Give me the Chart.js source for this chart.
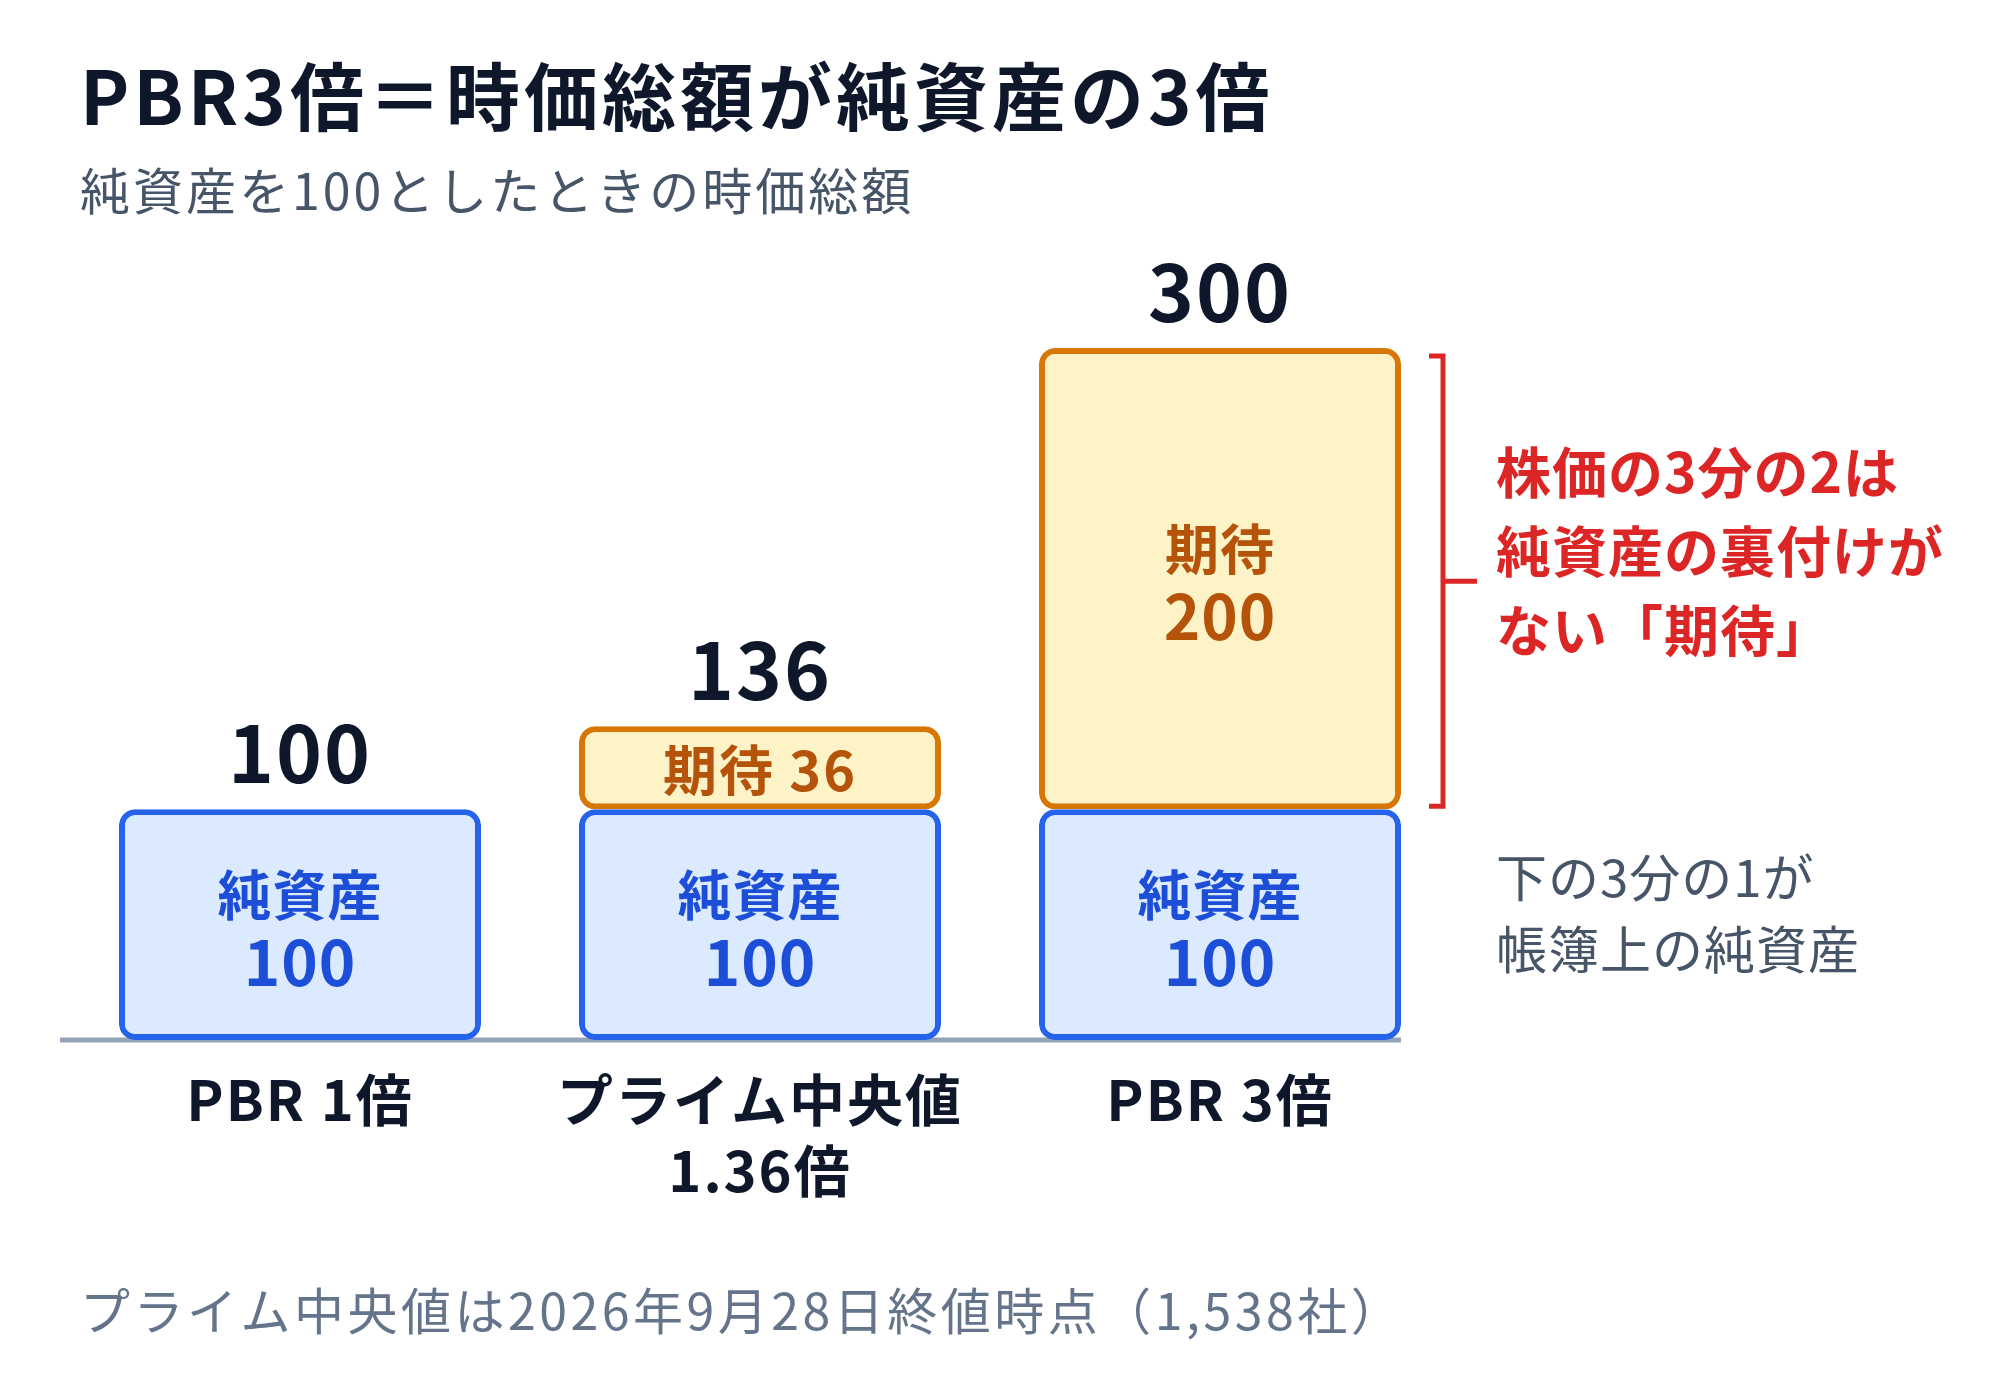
<!DOCTYPE html>
<html lang="ja">
<head>
<meta charset="utf-8">
<script src="https://cdn.jsdelivr.net/npm/chart.js@4.4.1/dist/chart.umd.min.js"></script>
<style>
  html, body { margin: 0; padding: 0; background: #ffffff; }
  #wrap { width: 2000px; height: 1380px; }
</style>
</head>
<body>
<div id="wrap"><canvas id="pbrChart" width="2000" height="1380"></canvas></div>
<script>
// データ
const categories = [["PBR 1倍"], ["プライム中央値", "1.36倍"], ["PBR 3倍"]];
const netAssets = [100, 100, 100];     // 純資産
const expectation = [null, 36, 200];   // 期待（時価総額 − 純資産）
const totals = [100, 136, 300];        // 時価総額
const titleText = "PBR3倍＝時価総額が純資産の3倍";
const subtitleText = "純資産を100としたときの時価総額";
const noteText = "プライム中央値は2026年9月28日終値時点（1,538社）";
const redNote = ["株価の3分の2は", "純資産の裏付けが", "ない「期待」"];
const grayNote = ["下の3分の1が", "帳簿上の純資産"];

const FONT = '"Noto Sans CJK JP", "Noto Sans", sans-serif';
const BLUE_TEXT = "#1d4ed8";
const ORANGE_TEXT = "#b45309";
const RED = "#dc2626";

const radius = { topLeft: 16, topRight: 16, bottomLeft: 16, bottomRight: 16 };

// 文字間を指定して描く
function drawText(ctx, s, x, y, spacing) {
  ctx.letterSpacing = (spacing || 0) + "px";
  ctx.fillText(s, x, y);
  ctx.letterSpacing = "0px";
}

// 文字・注記を描くプラグイン
const labelPlugin = {
  id: "labelPlugin",
  beforeDatasetsDraw(chart) {
    const ctx = chart.ctx;
    const y0 = chart.scales.y.getPixelForValue(0);
    const last = chart.getDatasetMeta(0).data[categories.length - 1];
    ctx.save();
    ctx.strokeStyle = "#94a3b8";
    ctx.lineWidth = 5;
    ctx.beginPath();
    ctx.moveTo(chart.chartArea.left - 10, y0);
    ctx.lineTo(last.x + last.width / 2, y0);
    ctx.stroke();
    ctx.restore();
  },
  afterDatasetsDraw(chart) {
    const ctx = chart.ctx;
    const x = chart.scales.x;
    ctx.save();
    ctx.textAlign = "center";
    ctx.textBaseline = "middle";

    // 純資産ラベル
    chart.getDatasetMeta(0).data.forEach((bar, i) => {
      const cy = (bar.y + bar.base) / 2;
      ctx.fillStyle = BLUE_TEXT;
      ctx.font = "bold 54px " + FONT;
      drawText(ctx, "純資産", bar.x, cy - 29, 1);
      ctx.font = "600 62px " + FONT;
      drawText(ctx, String(netAssets[i]), bar.x, cy + 38, 1);
    });

    // 期待ラベル
    chart.getDatasetMeta(1).data.forEach((bar, i) => {
      if (expectation[i] == null) return;
      const h = bar.base - bar.y;
      const cy = (bar.y + bar.base) / 2;
      ctx.fillStyle = ORANGE_TEXT;
      if (h < 140) {
        ctx.font = "bold 54px " + FONT;
        drawText(ctx, "期待 " + expectation[i], bar.x, cy + 3, 2);
      } else {
        ctx.font = "bold 54px " + FONT;
        drawText(ctx, "期待", bar.x, cy - 29, 1);
        ctx.font = "600 62px " + FONT;
        drawText(ctx, String(expectation[i]), bar.x, cy + 38, 1);
      }
    });

    // 合計
    ctx.fillStyle = "#0f172a";
    ctx.font = "bold 78px " + FONT;
    totals.forEach((t, i) => {
      const yTop = chart.scales.y.getPixelForValue(t);
      drawText(ctx, String(t), x.getPixelForValue(i), yTop - 56, 2);
    });

    // カテゴリ
    ctx.font = "bold 56px " + FONT;
    const y0 = chart.scales.y.getPixelForValue(0);
    categories.forEach((lines, i) => {
      lines.forEach((s, k) => {
        drawText(ctx, s, x.getPixelForValue(i), y0 + 60 + k * 71, 2);
      });
    });

    // 右の括弧
    const top = chart.getDatasetMeta(1).data[2];
    const bx = top.x + top.width / 2 + 42;
    const by1 = top.y + 8;
    const by2 = top.base - 3;
    ctx.strokeStyle = RED;
    ctx.lineWidth = 5;
    ctx.beginPath();
    ctx.moveTo(bx - 14, by1);
    ctx.lineTo(bx, by1);
    ctx.lineTo(bx, by2);
    ctx.lineTo(bx - 14, by2);
    ctx.moveTo(bx, (by1 + by2) / 2);
    ctx.lineTo(bx + 34, (by1 + by2) / 2);
    ctx.stroke();

    ctx.textAlign = "left";
    ctx.fillStyle = RED;
    ctx.font = "bold 55px " + FONT;
    redNote.forEach((s, k) => drawText(ctx, s, 1496, 472 + k * 79, 1));

    ctx.fillStyle = "#475569";
    ctx.font = "51px " + FONT;
    grayNote.forEach((s, k) => drawText(ctx, s, 1496, 878 + k * 72, 1));

    // タイトル類
    ctx.fillStyle = "#0f172a";
    ctx.font = "bold 74px " + FONT;
    drawText(ctx, titleText, 80, 97, 4);
    ctx.fillStyle = "#475569";
    ctx.font = "50px " + FONT;
    drawText(ctx, subtitleText, 80, 191, 3);
    ctx.fillStyle = "#64748b";
    ctx.font = "50px " + FONT;
    drawText(ctx, noteText, 80, 1311, 3.5);
    ctx.restore();
  }
};

const ctx = document.getElementById("pbrChart").getContext("2d");
const pbrChart = new Chart(ctx, {
  type: "bar",
  data: {
    labels: categories,
    datasets: [
      {
        label: "純資産",
        data: netAssets,
        backgroundColor: "#dbeafe",
        borderColor: "#2563eb",
        borderWidth: 6,
        borderRadius: radius,
        borderSkipped: false,
      },
      {
        label: "期待",
        data: expectation,
        backgroundColor: "#fef3c7",
        borderColor: "#d97706",
        borderWidth: 6,
        borderRadius: radius,
        borderSkipped: false,
      },
    ],
  },
  options: {
    responsive: false,
    animation: false,
    devicePixelRatio: 1,
    layout: { padding: { left: 70, right: 550, top: 348, bottom: 340 } },
    categoryPercentage: 1,
    barPercentage: 0.787,
    plugins: {
      legend: { display: false },
      tooltip: { enabled: false },
    },
    scales: {
      x: { stacked: true, display: false },
      y: { stacked: true, display: false, min: 0, max: 300 },
    },
  },
  plugins: [labelPlugin],
});
</script>
</body>
</html>
